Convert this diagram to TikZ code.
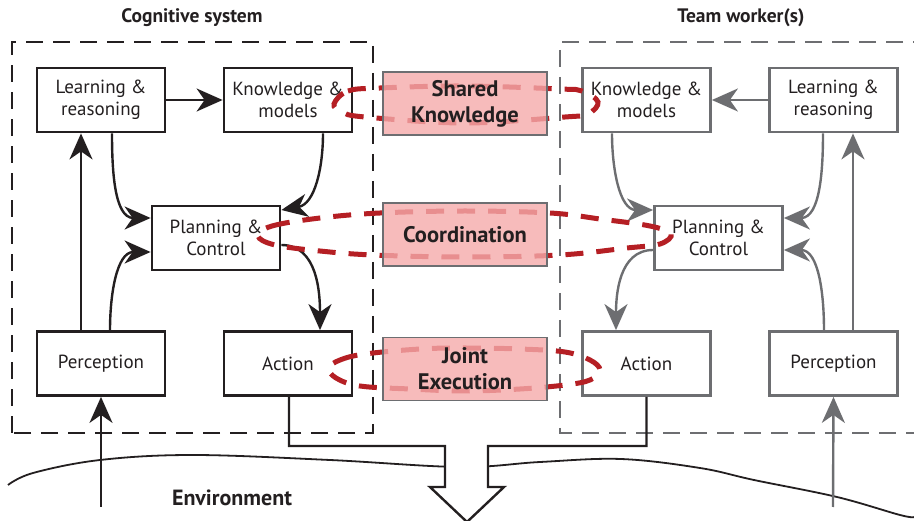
\documentclass[tikz,border=0pt]{standalone}
\usepackage{fontspec}
\setmainfont{PT Sans}
\usetikzlibrary{arrows.meta}
\definecolor{ink}{HTML}{231F20}
\definecolor{gry}{HTML}{6D6E71}
\definecolor{redl}{HTML}{B51F24}
\definecolor{pinkf}{RGB}{245,170,170}
\begin{document}
\begin{tikzpicture}[x=1pt,y=1pt,
  box/.style={draw=ink, line width=2.8pt, fill=white, minimum width=128pt, minimum height=64pt, align=center, font=\fontsize{19}{22}\selectfont, text=ink, inner sep=0pt},
  boxR/.style={box, draw=gry},
  pinkbox/.style={draw=gry, line width=1.6pt, fill=pinkf, fill opacity=0.8, text opacity=1, minimum width=164pt, minimum height=63pt, align=center, font=\bfseries\fontsize{22.5}{26}\selectfont, text=ink, inner sep=0pt},
  arr/.style={draw=ink, line width=2.4pt, -{Stealth[length=26pt,width=23pt,inset=8pt]}},
  arrR/.style={arr, draw=gry},
  frameL/.style={draw=ink, line width=2pt, dash pattern=on 17pt off 10pt},
  frameR/.style={draw=gry, line width=2pt, dash pattern=on 17pt off 10pt},
  redloop/.style={draw=redl, line width=5pt, dash pattern=on 18pt off 13pt},
  title/.style={font=\bfseries\fontsize{19.5}{22}\selectfont, text=ink}
]
\useasboundingbox (0,0) rectangle (914,520);

% frames
\draw[frameL] (12,87) rectangle (373,478);
\draw[frameR] (930,478) -- (560,478) -- (560,87) -- (930,87);

% titles
\node[title] (t1) at (192,502) {Cognitive system};
\node[title] (t2) at (741,502) {Team worker(s)};

% environment wave
\draw[ink, line width=1.8pt] plot[smooth, tension=0.6] coordinates {(8,35) (33,47) (100,60) (193,65) (330,60) (460,53) (540,58) (621,61) (700,52) (754,40) (837,23) (900,5) (914,3)};
\node[font=\bfseries\fontsize{22}{25}\selectfont, text=ink] (env) at (232,22) {Environment};

% left boxes
\node[box] (lrL) at (101,420) {Learning \&\\reasoning};
\node[box] (kmL) at (288,420) {Knowledge \&\\models};
\node[box] (pcL) at (216,282) {Planning \&\\Control};
\node[box] (peL) at (101,156.5) {Perception};
\node[box] (acL) at (288,156.5) {Action};

% right boxes
\node[boxR] (kmR) at (646.5,420) {Knowledge \&\\models};
\node[boxR] (lrR) at (833.5,420) {Learning \&\\reasoning};
\node[boxR] (pcR) at (718.5,282) {Planning \&\\Control};
\node[boxR] (acR) at (646.5,156.5) {Action};
\node[boxR] (peR) at (833.5,156.5) {Perception};

% left arrows
\draw[arr] (lrL.east) -- (kmL.west);
\draw[arr] ([xshift=11pt]lrL.south) to[out=-90,in=180] ([yshift=20pt]pcL.west);
\draw[arr] ([xshift=35pt]kmL.south) to[out=-90,in=10] ([yshift=28pt]pcL.east);
\draw[arr] ([xshift=-20pt]peL.north) -- ([xshift=-20pt]lrL.south);
\draw[arr] ([xshift=9pt]peL.north) to[out=90,in=180] ([yshift=-14pt]pcL.west);
\draw[arr] ([yshift=-7pt]pcL.east) to[out=0,in=90] ([xshift=32pt]acL.north);
\coordinate (inL) at (101,13);
\draw[arr] (inL) -- (peL.south);

% right arrows
\draw[arrR] (lrR.west) -- (kmR.east);
\draw[arrR] ([xshift=-34.5pt]kmR.south) to[out=-90,in=180] ([yshift=28pt]pcR.west);
\draw[arrR] ([xshift=-10.5pt]lrR.south) to[out=-90,in=0] ([yshift=20pt]pcR.east);
\draw[arrR] ([xshift=19.5pt]peR.north) -- ([xshift=19.5pt]lrR.south);
\draw[arrR] ([xshift=-9.5pt]peR.north) to[out=90,in=0] ([yshift=-12pt]pcR.east);
\draw[arrR] ([yshift=-12pt]pcR.west) to[out=180,in=90] ([xshift=-30.5pt]acR.north);
\coordinate (inR) at (833,13);
\draw[arrR] (inR) -- (peR.south);

% output arrow
\fill[white] (445,74) -- (445,33) -- (430,33) -- (467,-2) -- (504,33) -- (488,33) -- (488,74) -- cycle;
\draw[ink, line width=2.4pt] ([xshift=1pt]acL.south) |- (445,74) -- (445,33) -- (430,33) -- (467,-2) -- (504,33) -- (488,33) -- (488,74) -| (acR.south);

% red loops
\draw[redloop] plot[smooth cycle, tension=0.6] coordinates {(334,416) (348,429) (380,432) (465,434) (560,431) (582,429) (598,418) (588,406) (565,403) (465,397) (365,403) (342,408)};
\draw[redloop] plot[smooth cycle, tension=0.6] coordinates {(258,284) (272,294) (320,302) (380,307) (465,309) (550,307) (600,301) (650,294) (671,286) (660,276) (627,272) (560,265) (465,263) (373,265) (320,269) (275,275)};
\draw[redloop] plot[smooth cycle, tension=0.6] coordinates {(329,152) (340,160) (365,166) (420,171) (465,172) (520,171) (565,168) (590,160) (600,150) (590,140) (565,135) (520,131) (465,129) (410,131) (360,134) (336,142)};

% pink boxes
\node[pinkbox] (sk) at (465,416.5) {Shared\\Knowledge};
\node[pinkbox] (co) at (465,285.5) {Coordination};
\node[pinkbox] (je) at (465,151) {Joint\\Execution};
\end{tikzpicture}
\end{document}
